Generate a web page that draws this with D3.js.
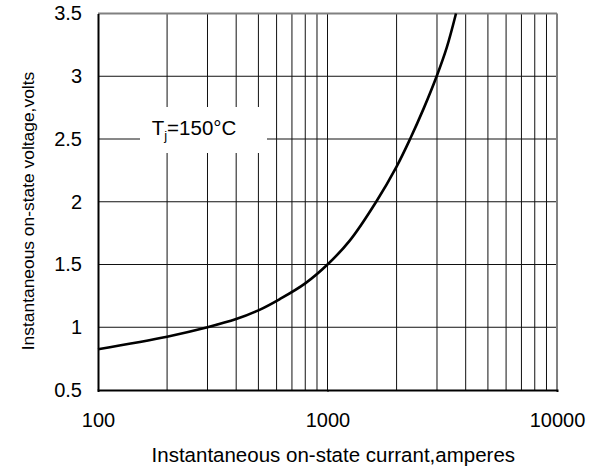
<!DOCTYPE html>
<html>
<head>
<meta charset="utf-8">
<script src="https://cdn.jsdelivr.net/npm/d3@7"></script>
<style>
html,body{margin:0;padding:0;background:#fff;}
svg{display:block;font-family:"Liberation Sans",Arial,sans-serif;}
</style>
</head>
<body>
<svg id="chart" width="590" height="472"></svg>
<script>
// Data
const currentAmps = [100, 200, 300, 400, 500, 620, 800, 1000, 1250, 1630, 2000, 2290, 2620, 2990, 3310, 3630];
const voltageVolts = [0.825, 0.925, 1.0, 1.065, 1.135, 1.225, 1.35, 1.5, 1.69, 2.0, 2.28, 2.5, 2.74, 3.0, 3.23, 3.5];
const xTickValues = [100, 1000, 10000];
const xTickLabels = ["100", "1000", "10000"];
const yTickValues = [0.5, 1, 1.5, 2, 2.5, 3, 3.5];
const yTickLabels = ["0.5", "1", "1.5", "2", "2.5", "3", "3.5"];
const xGridValues = [200,300,400,500,600,700,800,900,1000,2000,3000,4000,5000,6000,7000,8000,9000];
const yGridValues = [1, 1.5, 2, 2.5, 3];
const xTitle = "Instantaneous on-state currant,amperes";
const yTitle = "Instantaneous on-state voltage,volts";

(function () {
const svg = d3.select("#chart");
const pL = 98, pR = 557, pT = 13.5, pB = 390;

const x = d3.scaleLog().domain([100, 10000]).range([pL, pR]);
const y = d3.scaleLinear().domain([0.5, 3.5]).range([pB, pT]);

// grid
const grid = svg.append("g");
grid.selectAll("line.v").data(xGridValues).enter().append("line")
  .attr("x1", d => x(d)).attr("x2", d => x(d))
  .attr("y1", pT).attr("y2", pB)
  .attr("stroke", "#111").attr("stroke-width", 1);
grid.selectAll("line.h").data(yGridValues).enter().append("line")
  .attr("x1", pL).attr("x2", pR)
  .attr("y1", d => y(d)).attr("y2", d => y(d))
  .attr("stroke", "#111").attr("stroke-width", 1);

// frame: top & right gray, left & bottom black
svg.append("line").attr("x1", pL).attr("x2", pR).attr("y1", pT).attr("y2", pT)
  .attr("stroke", "#808080").attr("stroke-width", 2);
svg.append("line").attr("x1", pR).attr("x2", pR).attr("y1", pT).attr("y2", pB)
  .attr("stroke", "#808080").attr("stroke-width", 2);

// Label box (white) covering grid
svg.append("rect").attr("x", 140).attr("y", 107).attr("width", 127).attr("height", 46).attr("fill", "#fff");

// axes
const xAxis = d3.axisBottom(x).tickValues(xTickValues).tickFormat((d, i) => xTickLabels[i]).tickSize(2).tickPadding(20);
const gx = svg.append("g").attr("transform", `translate(0,${pB})`).call(xAxis);
gx.select(".domain").attr("stroke", "#000").attr("stroke-width", 2);
gx.selectAll(".tick line").attr("stroke", "#000");
gx.selectAll("text").attr("font-size", 20).attr("fill", "#000")
  .attr("font-family", "Liberation Sans, Arial, sans-serif").attr("dy", "0.71em").attr("y", 23);

const yAxis = d3.axisLeft(y).tickValues(yTickValues).tickFormat((d, i) => yTickLabels[i]).tickSize(0).tickPadding(16);
const gy = svg.append("g").attr("transform", `translate(${pL},0)`).call(yAxis);
gy.select(".domain").attr("stroke", "#000").attr("stroke-width", 2);
gy.selectAll("text").attr("font-size", 20).attr("fill", "#000")
  .attr("font-family", "Liberation Sans, Arial, sans-serif");

// curve
const line = d3.line()
  .x((d, i) => x(currentAmps[i]))
  .y((d, i) => y(voltageVolts[i]))
  .curve(d3.curveCatmullRom.alpha(0.5));
svg.append("path").datum(voltageVolts).attr("d", line)
  .attr("fill", "none").attr("stroke", "#000").attr("stroke-width", 2.6);

// annotation
const ann = svg.append("text").attr("x", 151.7).attr("y", 135).attr("font-size", 20.5).attr("fill", "#000");
ann.append("tspan").text("T");
ann.append("tspan").attr("font-size", 13).attr("dy", 5).text("j");
ann.append("tspan").attr("dy", -5).text("=150°C");

// titles
svg.append("text").attr("x", 333.3).attr("y", 462.3).attr("text-anchor", "middle")
  .attr("font-size", 20.5).attr("fill", "#000").text(xTitle);
svg.append("text").attr("transform", "translate(33.5,211) rotate(-90)").attr("text-anchor", "middle")
  .attr("font-size", 17.4).attr("fill", "#000").text(yTitle);
})();
</script>
</body>
</html>
